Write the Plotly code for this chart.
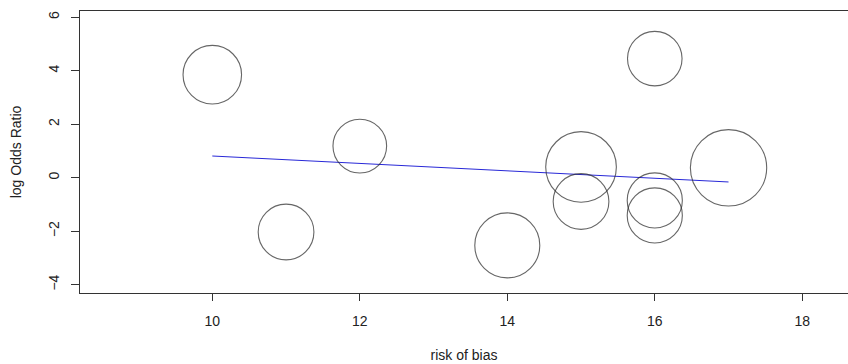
import plotly.graph_objects as go

# Data
risk_of_bias = [10, 11, 12, 14, 15, 15, 16, 16, 16, 17]
log_odds_ratio = [3.85, -2.03, 1.18, -2.53, 0.40, -0.89, 4.45, -0.85, -1.41, 0.37]
study_weight = [10.7, 9.7, 9.0, 13.2, 15.6, 9.7, 9.3, 9.5, 9.5, 18.2]
reg_intercept = 2.196
reg_slope = -0.1386
x_ticks = [10, 12, 14, 16, 18]
y_ticks = [-4, -2, 0, 2, 4, 6]

line_x = [min(risk_of_bias), max(risk_of_bias)]
line_y = [reg_intercept + reg_slope * v for v in line_x]

FONT = "Liberation Sans, Arial, sans-serif"

fig = go.Figure()
fig.add_trace(go.Scatter(
    x=line_x, y=line_y, mode="lines",
    line=dict(color="rgb(40,40,215)", width=1),
    hoverinfo="skip", showlegend=False,
))
fig.add_trace(go.Scatter(
    x=risk_of_bias, y=log_odds_ratio, mode="markers",
    marker=dict(size=study_weight, sizemode="area", sizeref=1 / 160,
                color="rgba(0,0,0,0)",
                line=dict(color="#262626", width=1.1)),
    showlegend=False,
))

fig.update_layout(
    width=848, height=364,
    margin=dict(l=80, r=0, t=10.5, b=71.3),
    paper_bgcolor="white", plot_bgcolor="white",
    font=dict(family=FONT, size=14, color="#222"),
    xaxis=dict(
        range=[8.206, 18.62], tickvals=x_ticks, ticks="outside", ticklen=7,
        tickcolor="#333", showline=True, linecolor="#333", linewidth=1.2,
        mirror=True, showgrid=False, zeroline=False,
        ticklabelstandoff=8,
        title=dict(text="risk of bias", standoff=22, font=dict(size=14)),
    ),
    yaxis=dict(
        range=[-4.31, 6.23], tickvals=y_ticks, ticks="outside", ticklen=8,
        tickcolor="#333", showline=True, linecolor="#333", linewidth=1.2,
        mirror=False, showgrid=False, zeroline=False, tickangle=-90,
        ticklabelstandoff=6,
        title=dict(text="log Odds Ratio", standoff=21, font=dict(size=14)),
    ),
)

fig.write_html("out.html")
